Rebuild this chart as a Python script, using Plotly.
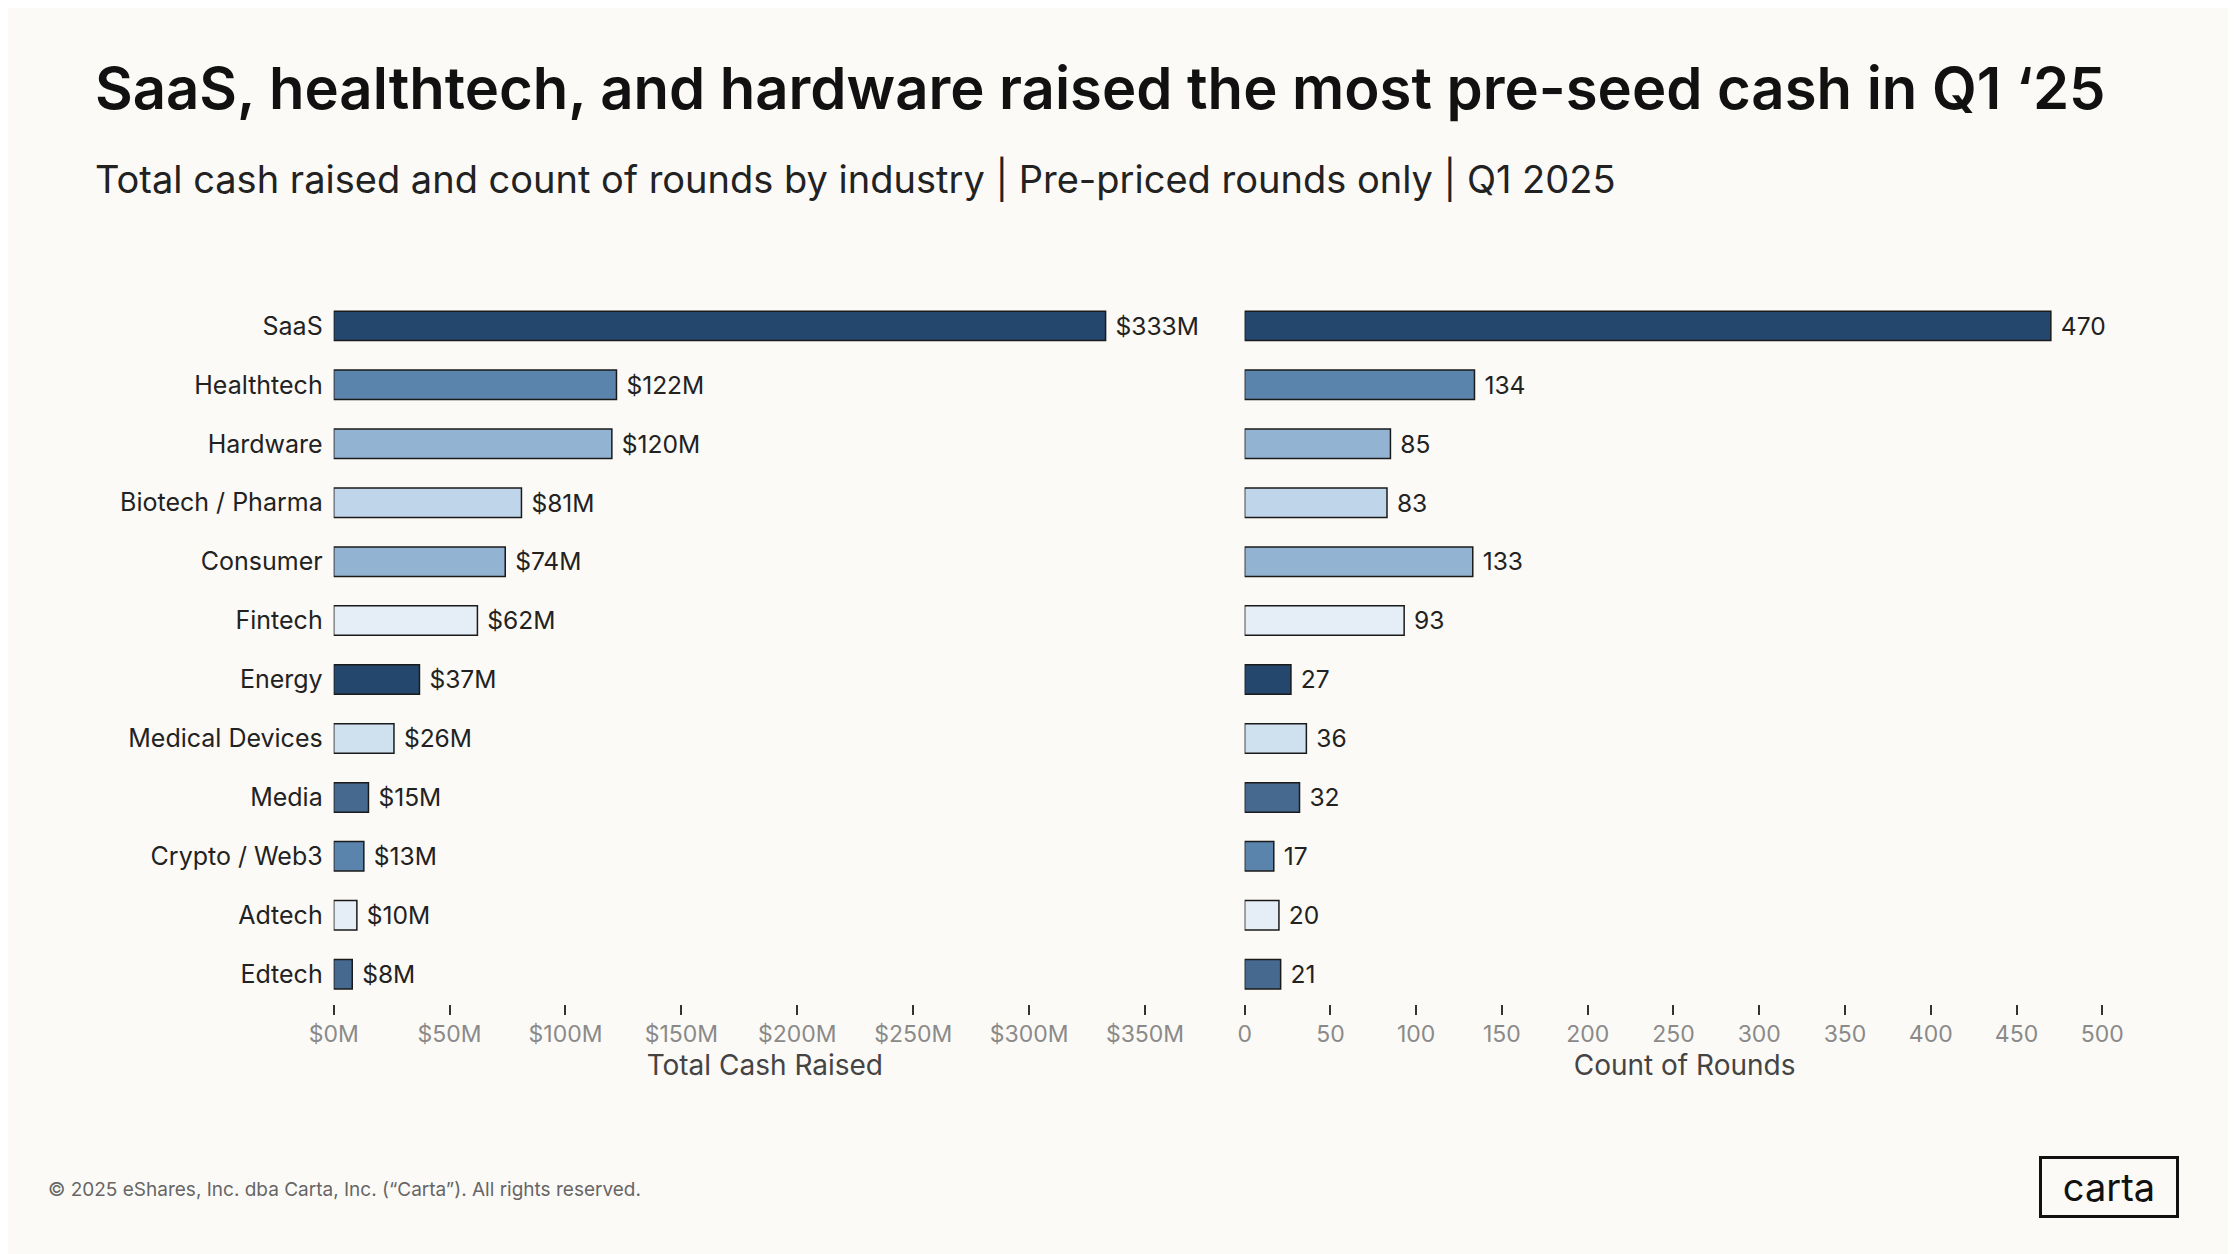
import plotly.graph_objects as go

industries = ['SaaS', 'Healthtech', 'Hardware', 'Biotech / Pharma', 'Consumer', 'Fintech',
              'Energy', 'Medical Devices', 'Media', 'Crypto / Web3', 'Adtech', 'Edtech']
cash_m = [333, 122, 120, 81, 74, 62, 37, 26, 15, 13, 10, 8]
rounds = [470, 134, 85, 83, 133, 93, 27, 36, 32, 17, 20, 21]
bar_colors = ['#24476e', '#5b84ad', '#93b3d2', '#bfd5ea', '#93b3d2', '#e5eef7',
              '#24476e', '#cfe0ef', '#46698f', '#5b84ad', '#e5eef7', '#46698f']

cash_ticks = [0, 50, 100, 150, 200, 250, 300, 350]
cash_tick_text = ['$%dM' % v for v in cash_ticks]
round_ticks = [0, 50, 100, 150, 200, 250, 300, 350, 400, 450, 500]

font = 'Inter'
bg = '#fcfaf6'

fig = go.Figure()
fig.add_trace(go.Bar(
    y=industries, x=cash_m, orientation='h', width=0.5,
    marker=dict(color=bar_colors, line=dict(color='#1a1a1a', width=1.5)),
    text=[' $%dM' % v for v in cash_m], textposition='outside', cliponaxis=False,
    textfont=dict(size=25, color='#222222', family=font),
    xaxis='x', yaxis='y'))
fig.add_trace(go.Bar(
    y=industries, x=rounds, orientation='h', width=0.5,
    marker=dict(color=bar_colors, line=dict(color='#1a1a1a', width=1.5)),
    text=[' %d' % v for v in rounds], textposition='outside', cliponaxis=False,
    textfont=dict(size=25, color='#222222', family=font),
    xaxis='x2', yaxis='y2'))

xcommon = dict(showgrid=False, zeroline=False, showline=False, ticks='outside', ticklen=10,
               tickwidth=1.5, tickcolor='#333333',
               tickfont=dict(size=23, color='#8a8a8a', family=font),
               title_font=dict(size=28, color='#444444', family=font), title_standoff=6)

fig.update_layout(
    width=2236, height=1254, paper_bgcolor=bg, plot_bgcolor=bg,
    margin=dict(l=0, r=0, t=0, b=0), showlegend=False, bargap=0.5,
    font=dict(family=font),
    xaxis=dict(domain=[0.136, 0.526], range=[0, 372], tickvals=cash_ticks,
               ticktext=cash_tick_text, title_text='Total Cash Raised', **xcommon),
    xaxis2=dict(domain=[0.548, 0.946], range=[0, 513], tickvals=round_ticks,
                title_text='Count of Rounds', **xcommon),
    yaxis=dict(domain=[0.206, 0.770], autorange='reversed', showgrid=False, ticks='',
               ticklabelstandoff=10, tickfont=dict(size=25, color='#222222', family=font)),
    yaxis2=dict(domain=[0.206, 0.770], autorange='reversed', showgrid=False,
                showticklabels=False, anchor='x2'),
)

fig.add_annotation(text='SaaS, healthtech, and hardware raised the most pre-seed cash in Q1 ‘25',
                   x=0.027, y=0.936, xref='paper', yref='paper', xanchor='left', yanchor='middle',
                   showarrow=False, font=dict(size=58, color='#111111', family=font, weight=600))
fig.add_annotation(text='Total cash raised and count of rounds by industry | Pre-priced rounds only | Q1 2025',
                   x=0.027, y=0.864, xref='paper', yref='paper', xanchor='left', yanchor='middle',
                   showarrow=False, font=dict(size=38, color='#222222', family=font))
fig.add_annotation(text='© 2025 eShares, Inc. dba Carta, Inc. (“Carta”). All rights reserved.',
                   x=0.006, y=0.058, xref='paper', yref='paper', xanchor='left', yanchor='middle',
                   showarrow=False, font=dict(size=19, color='#666666', family=font))
fig.add_annotation(text='carta', x=0.939, y=0.06, xref='paper', yref='paper',
                   xanchor='center', yanchor='middle', showarrow=False,
                   font=dict(size=38, color='#111111', family=font),
                   bordercolor='#111111', borderwidth=3, borderpad=6, width=122, height=44)

fig.write_html('out.html')
